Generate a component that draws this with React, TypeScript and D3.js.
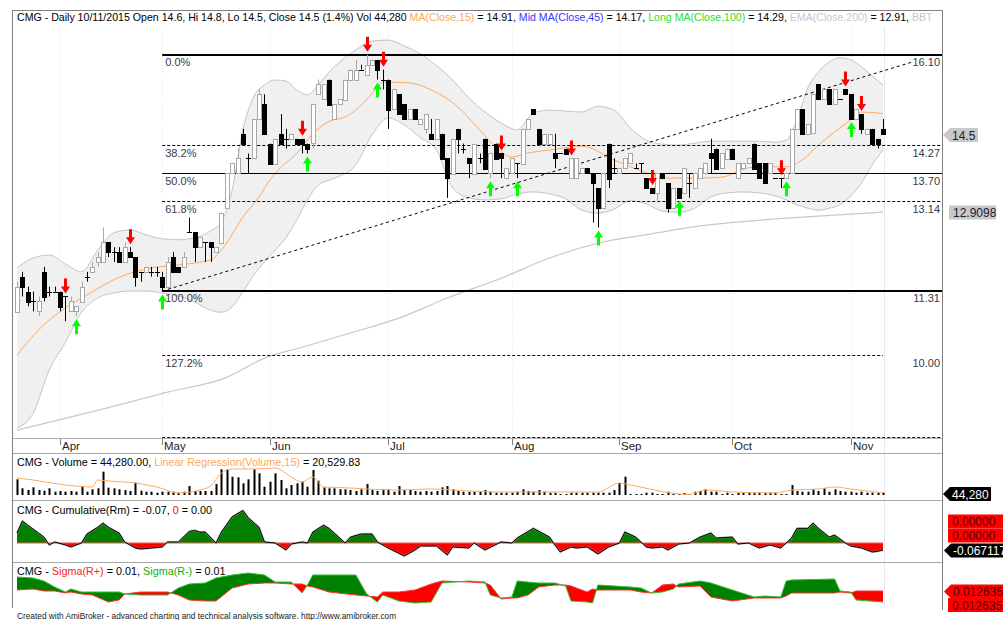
import React from 'react';
import * as d3 from 'd3';

// ---------- DATA ----------
const opens = [10.9,11.6,11.3,11.1,10.9,11.7,11.3,11.3,11.3,11.2,
10.9,10.9,11.1,11.6,11.7,11.9,11.9,12.3,12.1,12.1,
11.9,12.1,12.0,11.7,11.7,11.7,11.7,11.6,11.4,12.0,
11.8,11.8,12.5,12.5,12.2,12.3,12.3,12.1,12.3,13.0,
13.7,13.7,14.5,14.0,14.0,14.8,15.1,14.3,13.9,14.5,
14.4,14.4,14.4,14.4,14.3,14.3,15.3,15.2,15.6,14.8,
15.1,15.2,15.6,15.6,15.8,15.7,15.9,16.0,15.6,15.6,
15.0,15.3,15.1,14.8,15.0,14.7,14.6,14.5,14.4,14.5,
14.0,13.7,14.6,14.2,14.0,13.7,14.0,14.4,13.7,14.3,
14.1,13.6,13.7,13.9,13.9,14.6,15.0,14.6,14.3,14.3,
14.1,14.1,14.2,13.6,13.6,13.7,13.8,13.7,13.4,13.0,
14.3,13.8,13.7,13.8,13.9,13.8,13.9,13.6,13.4,13.3,
13.7,13.5,13.0,13.4,13.3,13.5,13.4,13.6,13.7,14.1,
14.2,13.8,14.0,14.2,13.6,13.8,13.9,14.3,13.9,13.9,
13.7,13.6,13.6,13.6,13.7,14.6,15.0,14.5,14.5,15.5,
15.2,15.4,15.1,15.2,15.4,15.3,14.8,14.9,14.5,14.6,
14.4,14.6];
const highs = [11.5,11.7,11.4,11.3,11.2,11.8,11.4,11.4,11.3,11.2,
11.2,11.0,11.5,11.7,11.9,12.1,12.6,12.3,12.2,12.2,
12.3,12.2,12.0,11.7,11.8,11.8,11.8,11.7,12.0,12.1,
11.8,12.1,12.8,12.5,12.4,12.3,12.3,12.2,12.9,13.7,
13.9,14.2,14.6,14.1,14.8,15.4,15.3,14.3,14.4,14.9,
14.6,14.5,14.4,14.4,14.3,15.1,15.6,15.5,15.6,15.1,
15.2,15.6,15.8,16.0,15.9,16.1,16.0,16.0,15.8,15.6,
15.4,15.3,15.1,15.0,15.0,14.8,14.9,14.8,14.8,14.5,
14.0,14.4,14.6,14.3,14.0,14.3,14.1,14.4,14.1,14.3,
14.1,13.8,14.0,13.9,14.6,14.8,15.0,14.6,14.5,14.5,
14.5,14.1,14.2,14.0,14.0,13.8,13.8,13.7,13.4,13.7,
14.3,14.0,13.8,14.0,14.1,13.9,13.9,13.6,13.4,13.7,
13.7,13.5,13.4,13.4,13.8,13.7,13.7,13.8,13.9,14.4,
14.2,14.1,14.2,14.2,13.9,13.9,14.0,14.3,13.9,13.9,
13.9,13.6,13.6,13.7,14.6,15.0,15.0,14.7,15.3,15.5,
15.4,15.4,15.4,15.2,15.4,15.3,15.0,14.9,14.6,14.6,
14.4,14.8];
const lows = [10.9,11.2,11.0,10.9,10.8,11.1,11.2,11.3,10.9,10.7,
10.9,10.8,11.1,11.5,11.7,11.8,11.9,12.0,11.9,11.9,
11.9,12.0,11.4,11.5,11.7,11.6,11.6,11.3,11.4,11.7,
11.7,11.8,12.5,11.9,12.2,11.9,11.9,12.1,12.3,13.0,
13.7,13.7,14.3,13.7,14.0,14.8,14.5,13.9,13.9,14.3,
14.2,14.4,14.3,14.1,14.1,14.2,15.3,15.2,15.1,14.8,
15.1,15.2,15.6,15.6,15.8,15.7,15.9,15.6,15.4,14.6,
15.0,14.9,14.8,14.8,14.8,14.7,14.5,14.4,14.4,14.0,
13.2,13.7,14.1,14.1,13.6,13.7,13.9,13.8,13.6,14.0,
13.6,13.6,13.7,13.6,13.9,14.6,14.9,14.3,14.3,14.3,
13.8,14.1,14.1,13.6,13.6,13.7,13.7,12.7,12.6,13.0,
13.4,13.7,13.7,13.8,13.9,13.8,13.7,13.4,13.3,13.1,
13.6,12.9,13.0,13.2,13.3,13.2,13.4,13.6,13.7,13.7,
13.8,13.8,14.0,14.0,13.6,13.8,13.9,13.8,13.6,13.5,
13.7,13.6,13.4,13.6,13.7,14.6,14.5,14.5,14.5,15.2,
15.2,15.1,15.1,15.2,15.3,14.8,14.8,14.5,14.5,14.3,
14.2,14.5];
const closes = [11.4,11.4,11.1,11.1,11.1,11.2,11.3,11.3,11.0,11.2,
11.1,11.0,11.4,11.6,11.8,12.0,12.3,12.1,12.1,11.9,
12.2,12.0,11.6,11.7,11.8,11.7,11.7,11.4,11.9,11.7,
11.7,12.0,12.5,12.2,12.4,12.3,12.2,12.2,12.9,13.7,
13.9,14.0,14.3,14.0,14.8,15.3,14.5,13.9,14.4,14.3,
14.4,14.5,14.3,14.3,14.2,15.1,15.5,15.5,15.1,15.1,
15.2,15.6,15.8,15.8,15.8,15.9,16.0,15.8,15.6,15.0,
15.4,14.9,14.8,15.0,14.8,14.8,14.9,14.4,14.8,14.0,
13.6,14.4,14.4,14.2,13.9,14.3,14.0,13.8,14.1,14.0,
14.0,13.8,14.0,13.9,14.6,14.8,14.9,14.3,14.5,14.5,
14.0,14.1,14.1,14.0,14.0,13.8,13.7,13.5,13.0,13.7,
13.6,13.8,13.8,14.0,14.1,13.8,13.9,13.4,13.3,13.7,
13.6,13.0,13.4,13.2,13.8,13.5,13.7,13.8,13.9,14.0,
13.8,14.1,14.2,14.0,13.9,13.9,14.0,13.8,13.6,13.5,
13.9,13.6,13.6,13.7,14.6,15.0,14.5,14.7,15.3,15.2,
15.4,15.1,15.4,15.2,15.3,14.8,15.0,14.6,14.6,14.3,
14.3,14.5];
const volumes = [298000,127000,95000,146000,95000,82000,127000,63000,76000,63000,
76000,63000,171000,63000,108000,127000,443000,139000,127000,108000,
95000,76000,234000,82000,63000,63000,44000,63000,63000,63000,
44000,63000,171000,76000,76000,76000,76000,209000,488000,488000,
348000,336000,222000,298000,488000,412000,158000,253000,412000,285000,
127000,190000,222000,253000,158000,475000,272000,146000,127000,127000,
108000,108000,95000,76000,108000,209000,95000,76000,108000,108000,
63000,171000,95000,95000,76000,63000,76000,63000,76000,146000,
171000,108000,76000,63000,63000,63000,76000,95000,63000,44000,
44000,44000,44000,63000,108000,76000,63000,95000,63000,44000,
44000,19000,19000,44000,44000,44000,44000,44000,44000,44000,
44000,95000,228000,348000,19000,19000,19000,44000,44000,19000,
19000,63000,19000,19000,38000,19000,63000,76000,108000,63000,
63000,19000,44000,19000,44000,44000,44000,44000,44000,44000,
44000,44000,19000,19000,190000,76000,63000,63000,108000,76000,
127000,63000,108000,76000,63000,63000,44000,63000,44000,44000,
44000,44280];

const monthLabels = ['Apr', 'May', 'Jun', 'Jul', 'Aug', 'Sep', 'Oct', 'Nov'];
const monthBarIdx = [8, 27, 47, 69, 92, 112, 133, 155];

const maIdx = [0,4,9,13,19,25,30,36,38,42,45,47,49,52,55,58,61,65,67,68,73,77,82,86,89,92,95,99,105,111,117,121,126,131,136,139,143,146,149,155,157,161];
const maVal = [10.01,10.52,10.97,11.23,11.59,11.78,11.84,11.94,12.14,12.81,13.22,13.56,13.81,14.10,14.50,14.75,14.84,15.19,15.45,15.55,15.53,15.39,15.04,14.58,14.23,14.03,14.11,14.17,14.25,13.97,13.71,13.60,13.60,13.62,13.81,13.83,13.83,13.97,14.27,14.78,14.94,14.91];

const bbIdx = [0,3,6,9,12,15,18,21,24,27,30,33,36,38,40,42,44,46,48,50,52,54,56,58,60,63,66,69,72,75,78,81,84,87,90,93,96,99,102,105,108,111,114,117,120,123,126,129,132,135,138,141,143,145,147,149,151,153,155,157,159,161];
const bbUpper = [11.78,11.98,12.04,11.86,11.70,12.14,12.49,12.55,12.45,12.37,12.35,12.39,12.53,12.71,13.36,14.58,15.25,15.49,15.59,15.57,15.39,15.29,15.49,15.75,15.96,16.20,16.38,16.40,16.28,16.12,15.88,15.59,15.23,14.94,14.72,14.58,14.92,14.98,14.96,14.94,15.06,14.98,14.62,14.37,14.29,14.27,14.31,14.35,14.35,14.35,14.35,14.33,14.37,14.78,15.43,15.75,15.96,16.04,16.00,15.86,15.67,15.49];
const bbLower = [8.53,8.83,9.71,10.27,10.88,11.17,11.27,11.31,11.31,11.27,11.21,11.09,10.92,10.88,10.99,11.29,11.63,11.90,12.14,12.39,12.75,13.16,13.46,13.56,13.64,13.87,14.48,14.82,14.68,14.42,14.17,13.40,13.20,13.16,13.18,13.28,13.32,13.28,13.18,12.95,12.89,12.97,13.14,13.08,12.93,12.91,12.99,13.22,13.30,13.32,13.30,13.24,13.16,13.06,12.99,12.95,12.99,13.06,13.24,13.50,13.87,14.17];

const emaIdx = [0,15,28,39,46,53,62,71,80,90,99,108,118,127,136,146,155,161];
const emaVal = [8.49,8.89,9.26,9.56,9.95,10.17,10.46,10.76,11.17,11.57,11.98,12.28,12.47,12.63,12.73,12.81,12.87,12.91];

const volRegIdx = [0,3,9,14,15,17,22,26,30,34,36,38,40,44,48,51,53,55,57,62,65,71,77,84,90,108,112,114,125,128,133,141,144,149,152,155,161];
const volRegVal = [323000,285000,190000,152000,285000,266000,228000,152000,38000,95000,171000,418000,494000,494000,513000,342000,247000,342000,152000,133000,114000,95000,114000,76000,57000,57000,228000,190000,10000,95000,57000,38000,95000,114000,152000,114000,40000];

const cumIdx = [0,1,2,4,5,6,7,9,10,12,13,15,16,17,19,20,22,23,25,27,28,30,32,33,34,35,37,38,40,42,43,45,46,48,50,51,53,54,55,57,58,60,61,62,64,66,67,69,72,74,75,78,80,81,84,85,87,90,92,93,96,99,100,101,103,104,106,108,110,112,113,115,117,118,120,121,123,125,127,129,130,133,134,136,138,140,142,144,145,147,148,149,151,152,154,155,157,159,160,161];
const cumVal = [0.095,0.21,0.17,0.095,0.057,-0.019,0.01,-0.019,-0.038,0,0.086,0.15,0.19,0.15,0.095,0.01,-0.048,-0.057,-0.048,-0.038,0.01,0.01,0.11,0.12,0.105,0.105,0,0.105,0.25,0.31,0.24,0.15,0.01,0,-0.067,-0.01,0.01,0,0.105,0.17,0.14,0.048,0,0.057,0.086,0.086,0.01,-0.048,-0.124,-0.067,-0.029,-0.029,-0.114,-0.038,-0.048,0,-0.067,0.01,0,0.048,0.14,0.057,-0.019,-0.086,-0.038,-0.048,-0.038,-0.105,-0.038,0,0.105,0.057,-0.038,-0.048,-0.038,-0.067,-0.01,0,0.057,0.095,0.048,0.057,-0.01,0,-0.048,-0.019,-0.048,0.048,0.14,0.14,0.19,0.14,0.057,0.076,0,-0.029,-0.048,-0.086,-0.08,-0.067];

const sigIdx = [0,3,5,7,9,10,12,14,17,19,20,23,27,28,30,32,35,37,40,43,46,48,51,53,54,55,58,63,65,67,68,71,74,77,79,84,87,88,90,92,93,95,97,100,102,103,106,107,108,114,116,118,120,122,123,127,129,133,137,139,142,143,144,152,153,155,156,161];
const sigMinus = [0.0182,0.0178,0.0166,0.0142,0.0122,0.0134,0.0122,0.0122,0.0122,0.0122,0.0114,0.0110,0.0110,0.0110,0.0138,0.0154,0.0158,0.0178,0.0190,0.0198,0.0190,0.0162,0.0162,0.0118,0.0150,0.0190,0.0190,0.0190,0.0114,0.0082,0.0110,0.0086,0.0078,0.0082,0.0158,0.0166,0.0162,0.0110,0.0098,0.0102,0.0166,0.0162,0.0158,0.0158,0.0146,0.0086,0.0082,0.0078,0.0150,0.0142,0.0138,0.0118,0.0122,0.0134,0.0154,0.0166,0.0158,0.0130,0.0102,0.0106,0.0102,0.0166,0.0170,0.0174,0.0126,0.0122,0.0090,0.0082];
const sigPlus = [0.0130,0.0134,0.0126,0.0126,0.0118,0.0122,0.0114,0.0110,0.0082,0.0090,0.0114,0.0122,0.0122,0.0122,0.0110,0.0090,0.0086,0.0086,0.0138,0.0154,0.0158,0.0158,0.0154,0.0154,0.0146,0.0142,0.0122,0.0110,0.0106,0.0102,0.0122,0.0122,0.0130,0.0154,0.0166,0.0162,0.0158,0.0150,0.0094,0.0098,0.0098,0.0110,0.0142,0.0150,0.0150,0.0146,0.0122,0.0134,0.0130,0.0130,0.0122,0.0118,0.0150,0.0154,0.0142,0.0146,0.0102,0.0086,0.0098,0.0098,0.0098,0.0106,0.0118,0.0118,0.0122,0.0118,0.0126,0.0126];

const redArrowIdx = [9, 21, 53, 65, 68, 90, 103, 118, 142, 154, 157];
const greenArrowIdx = [11, 27, 54, 67, 88, 93, 108, 123, 143, 155];

const fibHigh = 16.10;
const fibLow = 11.31;
const fibLevels = [0, 0.382, 0.5, 0.618, 1, 1.272, 1.618];
const fibNames = ['0.0%', '38.2%', '50.0%', '61.8%', '100.0%', '127.2%', ''];
const fibValueLabels = ['16.10', '14.27', '13.70', '13.14', '11.31', '10.00', ''];
const fibStartIdx = 27;
const trendStart = { idx: 27, v: 11.31 };
const trendEnd = { idx: 166.6, v: 15.96 };

const FONT = '"Liberation Sans", Arial, Helvetica, sans-serif';
const TITLE_SIZE = 10.8;
const HEADER_SIZE = 10.6;

function Tag({ x0, yc, text, bg, fg, arrow, w }: { x0: number; yc: number; text: string; bg: string; fg: string; arrow: boolean; w: number }) {
  const h = 14;
  const d = arrow
    ? `M${x0},${yc} L${x0 + 7},${yc - h / 2} L${x0 + w},${yc - h / 2} L${x0 + w},${yc + h / 2} L${x0 + 7},${yc + h / 2} Z`
    : `M${x0},${yc - h / 2} L${x0 + w},${yc - h / 2} L${x0 + w},${yc + h / 2} L${x0},${yc + h / 2} Z`;
  return (
    <g>
      <path d={d} fill={bg} />
      <text x={x0 + (arrow ? 9 : 4)} y={yc + 4.5} fontSize={12} fill={fg}>{text}</text>
    </g>
  );
}

export default function App() {
  const x = d3.scaleLinear().domain([0, 161]).range([17, 883]);
  const yP = d3.scaleLinear().domain([8.35, 17.01]).range([437, 10]);
  const yV = d3.scaleLinear().domain([0, 500000]).range([495, 468.7]);
  const yC = d3.scaleLinear().domain([-0.2, 0.4]).range([564, 501]);
  const yS = d3.scaleLinear().domain([0.0078, 0.0198]).range([603, 573]);

  const bandArea = d3.area<number>()
    .x((d) => x(d))
    .y0((_, k) => yP(bbLower[k]))
    .y1((_, k) => yP(bbUpper[k]))
    .curve(d3.curveMonotoneX)(bbIdx) || '';
  const bandUp = d3.line<number>().x((d) => x(d)).y((_, k) => yP(bbUpper[k])).curve(d3.curveMonotoneX)(bbIdx) || '';
  const bandLo = d3.line<number>().x((d) => x(d)).y((_, k) => yP(bbLower[k])).curve(d3.curveMonotoneX)(bbIdx) || '';
  const maPath = d3.line<number>().x((d) => x(d)).y((_, k) => yP(maVal[k])).curve(d3.curveMonotoneX)(maIdx) || '';
  const emaPath = d3.line<number>().x((d) => x(d)).y((_, k) => yP(emaVal[k])).curve(d3.curveMonotoneX)(emaIdx) || '';
  const volRegPath = d3.line<number>().x((d) => x(d)).y((_, k) => yV(volRegVal[k])).curve(d3.curveMonotoneX)(volRegIdx) || '';

  const zeroY = yC(0);
  const cumArea = d3.area<number>().x((d) => x(d)).y0(zeroY).y1((_, k) => yC(cumVal[k]))(cumIdx) || '';
  const cumLine = d3.line<number>().x((d) => x(d)).y((_, k) => yC(cumVal[k]))(cumIdx) || '';

  const sigBetween = d3.area<number>().x((d) => x(d)).y0((_, k) => yS(sigPlus[k])).y1((_, k) => yS(sigMinus[k]))(sigIdx) || '';
  const sigAbovePlus = d3.area<number>().x((d) => x(d)).y0(560).y1((_, k) => yS(sigPlus[k]))(sigIdx) || '';
  const sigBelowPlus = d3.area<number>().x((d) => x(d)).y0(612).y1((_, k) => yS(sigPlus[k]))(sigIdx) || '';
  const sigPlusLine = d3.line<number>().x((d) => x(d)).y((_, k) => yS(sigPlus[k]))(sigIdx) || '';
  const sigMinusLine = d3.line<number>().x((d) => x(d)).y((_, k) => yS(sigMinus[k]))(sigIdx) || '';

  const fibStartX = x(fibStartIdx);
  const lastX = x(161);

  const arrowDown = (cx: number, tip: number) =>
    `M${cx - 1.5},${tip - 15} L${cx + 1.5},${tip - 15} L${cx + 1.5},${tip - 7} L${cx + 4.5},${tip - 7} L${cx},${tip} L${cx - 4.5},${tip - 7} L${cx - 1.5},${tip - 7} Z`;
  const arrowUp = (cx: number, tip: number) =>
    `M${cx - 1.5},${tip + 15} L${cx + 1.5},${tip + 15} L${cx + 1.5},${tip + 7} L${cx + 4.5},${tip + 7} L${cx},${tip} L${cx - 4.5},${tip + 7} L${cx - 1.5},${tip + 7} Z`;

  const fibStyle = (k: number) => {
    if (k === 0 || k === 4) return { w: 2, dash: undefined as string | undefined, end: 942 };
    if (k === 2) return { w: 1, dash: undefined as string | undefined, end: 942 };
    if (k === 5) return { w: 1, dash: '3,2', end: lastX };
    return { w: 1, dash: '3,2', end: 942 };
  };

  return (
    <svg width={1003} height={620} style={{ position: 'absolute', left: 0, top: 0, fontFamily: FONT }}>
      <defs>
        <clipPath id="mainClip"><rect x={13} y={26} width={929} height={411} /></clipPath>
        <clipPath id="cumPos"><rect x={0} y={501} width={1003} height={zeroY - 501} /></clipPath>
        <clipPath id="cumNeg"><rect x={0} y={zeroY} width={1003} height={562 - zeroY} /></clipPath>
        <clipPath id="sigAbove"><path d={sigAbovePlus} /></clipPath>
        <clipPath id="sigBelow"><path d={sigBelowPlus} /></clipPath>
      </defs>
      <rect x={0} y={0} width={1003} height={620} fill="#fff" />

      {/* month grid lines */}
      {monthBarIdx.map((m, k) => (
        <line key={'g' + k} x1={Math.round(x(m)) + 0.5} x2={Math.round(x(m)) + 0.5} y1={26} y2={437} stroke="#e4e4e4" strokeDasharray="1,2" />
      ))}
      <line x1={Math.round(lastX) + 1.5} x2={Math.round(lastX) + 1.5} y1={26} y2={608} stroke="#e8e8f4" />

      <g clipPath="url(#mainClip)">
        <path d={bandArea} fill="#f0f0f0" />
        <path d={bandUp} fill="none" stroke="#c4c4c4" />
        <path d={bandLo} fill="none" stroke="#c4c4c4" />
        <path d={emaPath} fill="none" stroke="#c8c8c8" strokeWidth={1.2} />
        <path d={maPath} fill="none" stroke="#ffab60" strokeWidth={1} />
      </g>

      {/* Fibonacci levels */}
      {fibLevels.map((lv, k) => {
        const v = fibHigh - lv * (fibHigh - fibLow);
        const yy = Math.round(yP(v)) + (fibStyle(k).w === 2 ? 0 : 0.5);
        const st = fibStyle(k);
        return (
          <g key={'f' + k}>
            <line x1={fibStartX} x2={st.end} y1={yy} y2={yy} stroke="#000" strokeWidth={st.w} strokeDasharray={st.dash} />
            {fibNames[k] && <text x={fibStartX + 3} y={yy + 11} fontSize={11} fill="#3a3a48">{fibNames[k]}</text>}
            {fibValueLabels[k] && <text x={940} y={yy + 11} fontSize={11} fill="#3a3a48" textAnchor="end">{fibValueLabels[k]}</text>}
          </g>
        );
      })}

      {/* trend line */}
      <line x1={x(trendStart.idx)} y1={yP(trendStart.v)} x2={x(trendEnd.idx)} y2={yP(trendEnd.v)} stroke="#000" strokeDasharray="3,3" />

      {/* candles */}
      {opens.map((o, i) => {
        const c = closes[i];
        const h = highs[i];
        const l = lows[i];
        const cx = Math.round(x(i)) + 0.5;
        const black = c < o;
        const doji = c === o;
        const col = black || doji ? '#000' : '#a8a8a8';
        const top = yP(Math.max(o, c));
        const bot = yP(Math.min(o, c));
        return (
          <g key={'c' + i}>
            <line x1={cx} x2={cx} y1={yP(h)} y2={yP(l)} stroke={col} />
            {doji ? (
              <line x1={cx - 2.5} x2={cx + 2.5} y1={Math.round(top) + 0.5} y2={Math.round(top) + 0.5} stroke="#000" />
            ) : (
              <rect x={cx - 2} y={Math.round(top) + 0.5} width={4} height={Math.max(1, Math.round(bot - top))} fill={black ? '#000' : '#fff'} stroke={col} />
            )}
          </g>
        );
      })}

      {/* signal arrows */}
      {redArrowIdx.map((i) => (
        <path key={'r' + i} d={arrowDown(Math.round(x(i)) + 0.5, yP(highs[i]) - 3)} fill="#ff0000" />
      ))}
      {greenArrowIdx.map((i) => (
        <path key={'gr' + i} d={arrowUp(Math.round(x(i)) + 0.5, yP(lows[i]) + 3)} fill="#00ff00" />
      ))}

      {/* header */}
      <text x={17} y={21} fontSize={HEADER_SIZE} fill="#000">
        <tspan>{'CMG - Daily 10/11/2015 Open 14.6, Hi 14.8, Lo 14.5, Close 14.5 (1.4%) Vol 44,280 '}</tspan>
        <tspan fill="#ffa858">{'MA(Close,15)'}</tspan>
        <tspan>{' = 14.91, '}</tspan>
        <tspan fill="#3535ff">{'Mid MA(Close,45)'}</tspan>
        <tspan>{' = 14.17, '}</tspan>
        <tspan fill="#2ee02e">{'Long MA(Close,100)'}</tspan>
        <tspan>{' = 14.29, '}</tspan>
        <tspan fill="#c8c8c8">{'EMA(Close,200)'}</tspan>
        <tspan>{' = 12.91, '}</tspan>
        <tspan fill="#c8c8c8">{'BBT'}</tspan>
      </text>

      {/* x axis */}
      <line x1={12} x2={942} y1={438.5} y2={438.5} stroke="#b0b0b0" />
      <line x1={12} x2={942} y1={453.5} y2={453.5} stroke="#a8a8a8" />
      {monthBarIdx.map((m, k) => {
        const tx = Math.round(x(m)) + 0.5;
        return (
          <g key={'m' + k}>
            <line x1={tx} x2={tx} y1={439} y2={445} stroke="#808080" />
            <text x={tx + 1.5} y={450} fontSize={11.5} fill="#222">{monthLabels[k]}</text>
          </g>
        );
      })}

      {/* volume panel */}
      <text x={17} y={466} fontSize={TITLE_SIZE} fill="#000">
        <tspan>{'CMG - Volume = 44,280.00, '}</tspan>
        <tspan fill="#ffa858">{'Linear Regression(Volume,15)'}</tspan>
        <tspan>{' = 20,529.83'}</tspan>
      </text>
      {volumes.map((v, i) => {
        const cx = Math.round(x(i));
        const top = yV(v);
        return <rect key={'v' + i} x={cx - 0.5} y={top} width={2} height={Math.max(1, yV(0) - top)} fill="#000" />;
      })}
      <path d={volRegPath} fill="none" stroke="#ffab60" />
      <line x1={12} x2={942} y1={500.5} y2={500.5} stroke="#a8a8a8" />

      {/* cumulative panel */}
      <text x={17} y={514} fontSize={TITLE_SIZE} fill="#000">
        <tspan>{'CMG - Cumulative(Rm) = -0.07, '}</tspan>
        <tspan fill="#ff0000">{'0'}</tspan>
        <tspan>{' = 0.00'}</tspan>
      </text>
      <path d={cumArea} fill="#008000" clipPath="url(#cumPos)" />
      <path d={cumArea} fill="#ff0000" clipPath="url(#cumNeg)" />
      <line x1={x(0)} x2={lastX} y1={zeroY} y2={zeroY} stroke="#ff5050" />
      <path d={cumLine} fill="none" stroke="#999" strokeWidth={2.2} opacity={0.45} />
      <path d={cumLine} fill="none" stroke="#000" strokeWidth={1} />
      <line x1={12} x2={942} y1={562.5} y2={562.5} stroke="#a8a8a8" />

      {/* sigma panel */}
      <text x={17} y={575} fontSize={TITLE_SIZE} fill="#000">
        <tspan>{'CMG - '}</tspan>
        <tspan fill="#ff2020">{'Sigma(R+)'}</tspan>
        <tspan>{' = 0.01, '}</tspan>
        <tspan fill="#10b010">{'Sigma(R-)'}</tspan>
        <tspan>{' = 0.01'}</tspan>
      </text>
      <path d={sigBetween} fill="#008000" clipPath="url(#sigAbove)" />
      <path d={sigBetween} fill="#ff0000" clipPath="url(#sigBelow)" />
      <path d={sigPlusLine} fill="none" stroke="#ff3030" />
      <path d={sigMinusLine} fill="none" stroke="#30c030" />

      {/* frame */}
      <line x1={12} x2={942} y1={10.5} y2={10.5} stroke="#808080" />
      <line x1={12.5} x2={12.5} y1={10} y2={608} stroke="#808080" />
      <line x1={942.5} x2={942.5} y1={10} y2={610} stroke="#808080" />

      {/* right tags */}
      <Tag x0={943} yc={135} text="14.5" bg="#c8c8c8" fg="#202030" arrow={true} w={35} />
      <Tag x0={949} yc={212.5} text="12.9098" bg="#c8c8c8" fg="#202030" arrow={false} w={47} />
      <Tag x0={943} yc={494} text="44,280" bg="#000" fg="#fff" arrow={true} w={48} />
      <Tag x0={948} yc={521.5} text="0.00000" bg="#ff0000" fg="#500000" arrow={false} w={55} />
      <Tag x0={948} yc={535.5} text="0.00000" bg="#ff0000" fg="#500000" arrow={false} w={55} />
      <Tag x0={944} yc={550.5} text="-0.067117" bg="#000" fg="#fff" arrow={true} w={59} />
      <Tag x0={944} yc={591.5} text="0.012635" bg="#ff0000" fg="#500000" arrow={true} w={59} />
      <Tag x0={948} yc={605} text="0.012635" bg="#ff0000" fg="#500000" arrow={false} w={55} />

      {/* footer */}
      <text x={17} y={619} fontSize={8.3} fill="#222">Created with AmiBroker - advanced charting and technical analysis software. http://www.amibroker.com</text>
    </svg>
  );
}
